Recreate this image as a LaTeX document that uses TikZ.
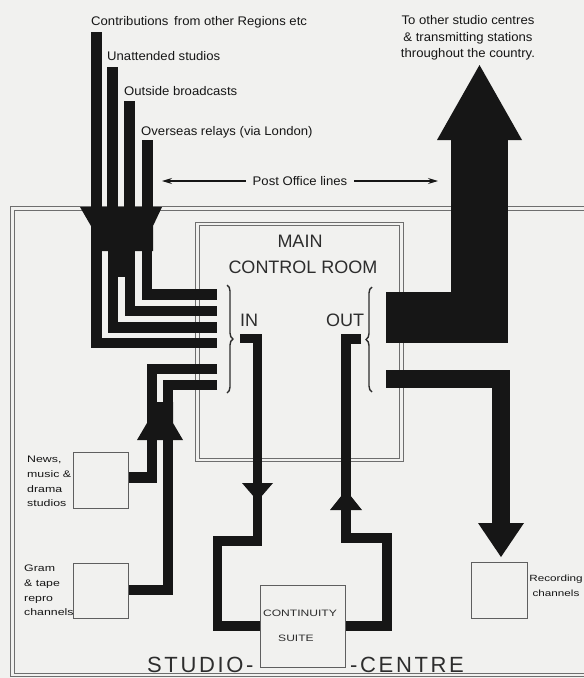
\documentclass[tikz,border=0pt]{standalone}
\usepackage{fontspec}
\setmainfont{Liberation Sans}
\newfontfamily\labfont[FakeStretch=1.05]{Liberation Sans}
\newfontfamily\smallfont[FakeStretch=1.3]{Liberation Sans}
\newfontfamily\capfont{Liberation Sans}
\newfontfamily\bigfont[LetterSpace=12]{Liberation Sans}
\usetikzlibrary{decorations.pathreplacing,arrows.meta}
\definecolor{paper}{RGB}{241,241,239}
\definecolor{ink}{RGB}{22,22,22}
\definecolor{rule}{RGB}{110,110,110}
\definecolor{boxline}{RGB}{95,95,95}
\definecolor{captext}{RGB}{45,45,45}
\begin{document}
\begin{tikzpicture}[x=1pt,y=-1pt,
  band/.style={draw=ink, line join=miter, line cap=butt},
  box/.style={draw=boxline, line width=1.4pt, fill=paper, inner sep=0pt, anchor=north west},
  toplab/.style={font=\labfont\fontsize{12.5}{16.8}\selectfont, text=ink, inner sep=0pt},
  smalllab/.style={font=\smallfont\fontsize{9.5}{14.7}\selectfont, text=ink, inner sep=0pt, align=left},
  caplab/.style={font=\capfont\fontsize{18}{22}\selectfont, text=captext, inner sep=0pt},
  biglab/.style={font=\bigfont\fontsize{22}{26}\selectfont, text=captext, inner sep=0pt},
  dblrule/.style={draw=rule, line width=1pt, double=paper, double distance=2.2pt},
  thinarrow/.style={draw=ink, line width=1.1pt, -{Stealth[length=10pt,width=6pt]}},
  bracestyle/.style={draw=captext, line width=1.4pt, decorate, decoration={brace, amplitude=6pt}}
]
\fill[paper] (0,0) rectangle (584,678);
\useasboundingbox (0,0) rectangle (584,678);

% frames
\draw[dblrule] (600,208.5) -- (12.5,208.5) -- (12.5,675) -- (600,675);
\draw[dblrule] (197.5,224) rectangle (401.5,460);

% incoming feeder bars
\draw[band, line width=11pt] (96.5,32) -- (96.5,226);
\draw[band, line width=11pt] (112.5,67) -- (112.5,226);
\draw[band, line width=11pt] (129.5,101) -- (129.5,226);
\draw[band, line width=11pt] (147,140) -- (147,226);
\fill[ink] (80,207) -- (162,207) -- (153,226) -- (153,251) -- (91,251) -- (91,226) -- cycle;
\fill[ink] (113,250) rectangle (130,277);

% L lines into IN
\draw[band, line width=10.5pt] (147,225) |- (217,294.5);
\draw[band, line width=10.5pt] (130,225) |- (217,311);
\draw[band, line width=10.5pt] (113,225) |- (217,327.5);
\draw[band, line width=10.5pt] (96.5,225) |- (217,343);

% studio feeds
\draw[band, line width=10.5pt] (217,369) -| (152,477.5) -- (127,477.5);
\draw[band, line width=10.5pt] (217,385) -| (168,590) -- (127,590);
\fill[ink] (137,440) -- (183,440) -- (173,423) -- (173,402) -- (147,402) -- (147,423) -- cycle;

% IN to continuity
\draw[band, line width=9.5pt] (240,338.5) -| (257.5,541) -| (217.5,626) -- (262,626);
\fill[ink] (242,483) -- (273,483) -- (257.5,501) -- cycle;

% continuity to OUT
\draw[band, line width=9.5pt] (361,339) -| (346,538) -| (387,626) -- (343,626);
\fill[ink] (330,510) -- (362,510) -- (346,490) -- cycle;

% big output
\fill[ink] (386,292) rectangle (508,343);
\fill[ink] (451,139) rectangle (508,343);
\fill[ink] (437,140) -- (522,140) -- (479.5,65) -- cycle;

% recording output
\fill[ink] (386,370) rectangle (510,388);
\fill[ink] (492,370) rectangle (510,524);
\fill[ink] (478,523) -- (524,523) -- (501,557) -- cycle;

% boxes
\node[box, minimum width=55pt, minimum height=56pt] (news) at (73,452) {};
\node[box, minimum width=55pt, minimum height=55pt] (gram) at (73,563) {};
\node[box, minimum width=56pt, minimum height=56pt] (rec) at (471,562) {};
\node[box, minimum width=85pt, minimum height=82pt] (cont) at (260,585) {};

% braces
\draw[bracestyle] (227,285) -- (227,393);
\draw[bracestyle] (372,392) -- (372,287);

% main control room text
\node[caplab] (main) at (300,241.5) {MAIN};
\node[caplab] (ctrl) at (303,267.5) {CONTROL ROOM};
\node[caplab] (in) at (249,320) {IN};
\node[caplab] (out) at (345,320) {OUT};

% continuity text
\node[font=\smallfont\fontsize{9.3}{11}\selectfont, text=captext, inner sep=0pt] (contA) at (300,613) {CONTINUITY};
\node[font=\smallfont\fontsize{9.3}{11}\selectfont, text=captext, inner sep=0pt] (contB) at (296,638) {SUITE};

% studio centre
\node[biglab, anchor=base west] (studio) at (147,672) {STUDIO-};
\node[biglab, anchor=base west] (centre) at (350,672) {-CENTRE};

% top labels
\node[toplab, anchor=base west] (l1) at (91,25) {Contributions\, from other Regions etc};
\node[toplab, anchor=base west] (l2) at (107,60) {Unattended studios};
\node[toplab, anchor=base west] (l3) at (124,95) {Outside broadcasts};
\node[toplab, anchor=base west] (l4) at (141,135) {Overseas relays (via London)};
\node[toplab, anchor=north, align=center] (l5) at (468,15) {To other studio centres\\\& transmitting stations\\throughout the country.};

% post office lines
\node[toplab, inner xsep=7pt] (pol) at (300,181) {Post Office lines};
\coordinate (polL) at (162,181);
\coordinate (polR) at (438,181);
\draw[thinarrow] (pol.west) -- (polL);
\draw[thinarrow] (pol.east) -- (polR);

% small labels
\node[smalllab, anchor=north west] (newsl) at (27,456) {News,\\music \&\\drama\\studios};
\node[smalllab, anchor=north west] (graml) at (24,565) {Gram\\\& tape\\repro\\channels};
\node[smalllab, anchor=north, align=center, font=\smallfont\fontsize{9}{15}\selectfont] (recl) at (556,575) {Recording\\channels};
\end{tikzpicture}
\end{document}
